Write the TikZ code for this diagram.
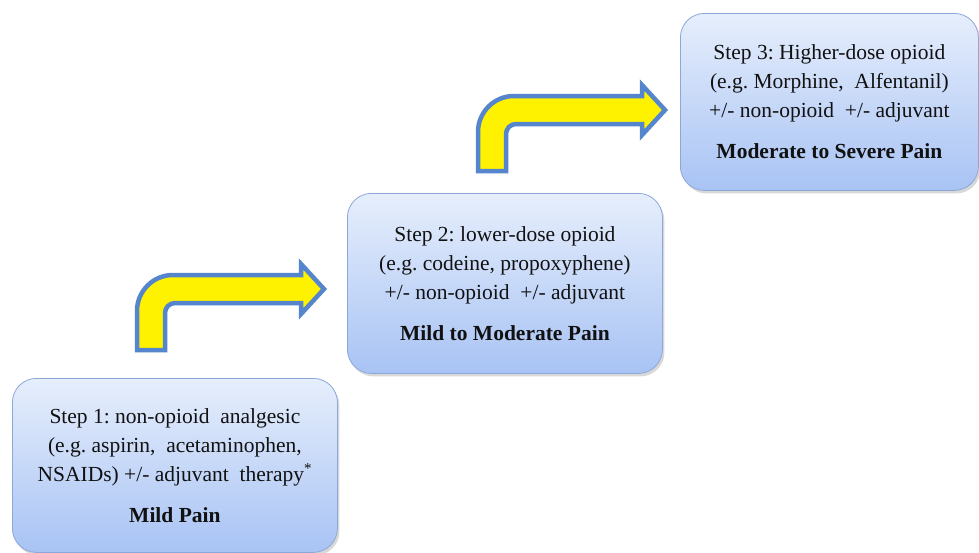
\documentclass[tikz,border=0pt]{standalone}
\usepackage{fontspec}
\setmainfont{Liberation Serif}
\usetikzlibrary{shadows}
\definecolor{boxtop}{HTML}{E6EEFC}
\definecolor{boxbot}{HTML}{A8C3F4}
\definecolor{boxline}{HTML}{8CA8D8}
\definecolor{arrline}{HTML}{5585CC}
\definecolor{txt}{HTML}{111111}
\tikzset{
  stepbox/.style={draw=boxline, line width=0.8pt, rounded corners=24pt,
    top color=boxtop, bottom color=boxbot, inner sep=0pt,
    drop shadow={shadow xshift=2pt, shadow yshift=-3pt, opacity=0.25, fill=black!60},
    text=txt, align=center, font=\rmfamily\frenchspacing\fontsize{21.5}{29}\selectfont},
  blockarrow/.style={draw=arrline, line width=4.5pt, fill=yellow, line join=miter},
  pics/bentarrow/.style={code={
    \draw[blockarrow] (0,0) -- (0,-39) .. controls (0,-58.9) and (16.1,-75) .. (36,-75)
      -- (164,-75) -- (164,-86) -- (187,-61) -- (164,-36) -- (164,-47)
      -- (38,-47) .. controls (32.5,-47) and (28,-42.5) .. (28,-37) -- (28,0) -- cycle;
  }}
}
\begin{document}
\begin{tikzpicture}[x=1pt,y=-1pt]
\useasboundingbox[fill=white] (0,0) rectangle (979,552);
\node[stepbox, minimum width=325pt, minimum height=174pt, anchor=north west] (s1) at (12,378)
  {Step 1: non-opioid~~analgesic\\ (e.g. aspirin,~~acetaminophen,\\ NSAIDs) +/- adjuvant~~therapy\textsuperscript{*}\\[12pt] \textbf{Mild Pain}};
\node[stepbox, minimum width=315pt, minimum height=180pt, anchor=north west] (s2) at (347,193)
  {Step 2: lower-dose opioid\\ (e.g. codeine, propoxyphene)\\ +/- non-opioid~~+/- adjuvant\\[12pt] \textbf{Mild to Moderate Pain}};
\node[stepbox, minimum width=298pt, minimum height=177pt, anchor=north west] (s3) at (680,13)
  {Step 3: Higher-dose opioid\\ (e.g. Morphine,~~Alfentanil)\\ +/- non-opioid~~+/- adjuvant\\[12pt] \textbf{Moderate to Severe Pain}};
\pic at (137,350) {bentarrow};
\pic at (478,171) {bentarrow};
\end{tikzpicture}
\end{document}
